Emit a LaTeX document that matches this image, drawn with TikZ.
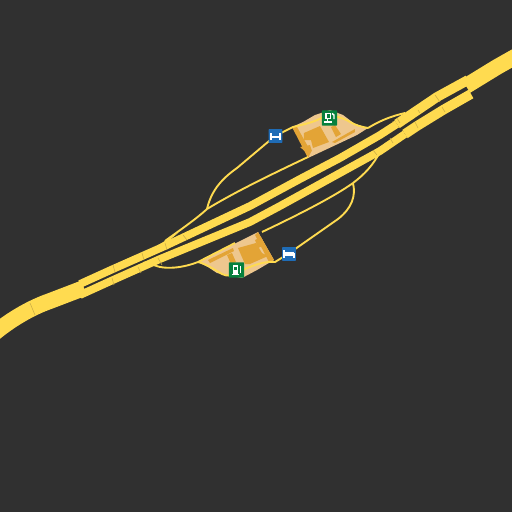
\documentclass[tikz,border=0pt]{standalone}
\usetikzlibrary{positioning}
\definecolor{MapBack}{RGB}{48, 48, 48}
\definecolor{RoadYellow}{RGB}{255, 219, 80}
\definecolor{RoadTick}{RGB}{205, 175, 70}
\definecolor{LotSand}{RGB}{238, 199, 142}
\definecolor{LotOrange}{RGB}{227, 164, 54}
\definecolor{IconGreen}{RGB}{6, 128, 62}
\definecolor{IconBlue}{RGB}{31, 108, 182}
\begin{document}
\begin{tikzpicture}[
    x=0.02cm, y=-0.02cm,
    % Global Styles
    trunk/.style={draw=RoadYellow, line width=16*0.567pt, line join=round},
    carriage/.style={draw=RoadYellow, line width=7.8*0.567pt, line join=round},
    widecarriage/.style={draw=RoadYellow, line width=9.8*0.567pt, line join=round},
    slip/.style={draw=RoadYellow, line width=1.9*0.567pt, line join=round},
    tick/.style={draw=RoadTick, line width=0.6*0.567pt},
    lot/.style={fill=LotSand},
    building/.style={fill=LotOrange},
    glyph/.style={draw=white, line width=1.5*0.567pt},
    greenicon/.style={rectangle, fill=IconGreen, inner sep=0pt, minimum size=15.5*0.567pt, rounded corners=0.5pt},
    blueicon/.style={rectangle, fill=IconBlue, inner sep=0pt, minimum size=14*0.567pt, rounded corners=0.5pt}
]

    \fill[MapBack] (0,0) rectangle (512,512);
    \useasboundingbox (0,0) rectangle (512,512);

    % --- Service areas ---

    % North lot
    \fill[lot] (292,127) -- (303,122) -- (315,115) -- (330,110) -- (343,115) -- (355,124)
        -- (368,128) -- (357,135) -- (308,158) -- (305,147) -- cycle;
    \fill[building] (292,127) -- (297,127) -- (311,152) -- (308,158) -- cycle;
    \fill[building] (304,133) -- (320,126) -- (329,142) -- (313,148) -- (311,140) -- (304,140) -- cycle;
    \fill[building] (300,147) -- (310,145) -- (312,151) -- (308,154) -- cycle;
    \fill[building] (331,127) -- (335,125) -- (341,134) -- (336,137) -- cycle;
    \fill[building] (332,142) -- (355,129) -- (355,132) -- (335,143) -- cycle;

    % South lot
    \fill[lot] (198,262) -- (258,232) -- (274,260) -- (257,270) -- (242,278)
        -- (217,273) -- (208,267) -- cycle;
    \fill[building] (258,232) -- (274,260) -- (269,262) -- (255,235) -- cycle;
    \fill[building] (238,248) -- (256,243) -- (262,253) -- (268,256) -- (250,264) -- (245,264) -- cycle;
    \fill[building] (255,240) -- (261,237) -- (265,245) -- (258,248) -- cycle;
    \fill[building] (227,255) -- (232,253) -- (236,262) -- (231,264) -- cycle;
    \fill[building] (208,260) -- (233,248) -- (234,251) -- (210,263) -- cycle;

    % --- Slip roads ---

    % North side
    \draw[slip] (165,241) .. controls (180,230) and (195,220) .. (207,209);
    \draw[slip] (207,209) .. controls (211,192) and (220,180) .. (237,168) -- (275,136);
    \draw[slip] (207,209) .. controls (235,192) and (270,175) .. (308,157);
    \draw[slip] (275,136) -- (293,127) .. controls (305,124) and (315,122) .. (323,117)
        .. controls (333,115) and (342,117) .. (350,122) .. controls (355,125) and (362,127) .. (368,128);
    \draw[slip] (368,128) .. controls (378,122) and (388,117) .. (405,113);

    % South side
    \draw[slip] (150,263) .. controls (160,270) and (180,269) .. (198,262);
    \draw[slip] (198,262) -- (235,243);
    \draw[slip] (198,262) .. controls (206,264) and (212,268) .. (222,274)
        .. controls (232,279) and (240,271) .. (247,268) .. controls (255,265) and (265,261) .. (275,262) -- (288,254);
    \draw[slip] (380,152) .. controls (373,165) and (365,174) .. (353,183);
    \draw[slip] (353,183) .. controls (335,196) and (300,214) .. (262,232);
    \draw[slip] (353,183) .. controls (356,196) and (352,208) .. (338,219) -- (288,254);

    % --- Main road ---

    \draw[trunk] (-8,335) .. controls (10,320) and (30,308) .. (50,301) -- (84,288);
    \draw[trunk] (466,86) -- (497,67) -- (520,54);
    \draw[carriage] (80,284) -- (113,269) -- (165,246) -- (250,206) -- (300,179) -- (340,158)
        -- (380,135) -- (397,124);
    \draw[carriage] (80,295) -- (113,280) -- (160,259) -- (250,222) -- (280,206) -- (340,173)
        -- (380,151) -- (405,134);
    \draw[widecarriage] (397,124) -- (437,97) -- (468,80);
    \draw[widecarriage] (405,134) -- (417,126) -- (443,110) -- (471,94);

    % flares where the slip roads leave
    \fill[RoadYellow] (150,250) -- (178,233) -- (165,244) -- cycle;
    \fill[RoadYellow] (143,262) -- (160,259) -- (150,265) -- cycle;
    \fill[RoadYellow] (392,122) -- (415,112) -- (405,118) -- cycle;
    \fill[RoadYellow] (372,156) -- (388,142) -- (379,156) -- cycle;

    % seams across the carriageways
    \foreach \a/\b/\c/\d in {30/303/35/315, 113/265/115/272, 112/278/114/285, 142/253/144/260,
        138/267/141/273, 158/258/162/265, 165/243/167/250, 183/235/187/240, 435/95/440/102,
        442/107/445/112, 415/122/418/128, 418/110/420/113, 397/118/400/123, 390/138/393/143,
        373/150/377/155}
        \draw[tick] (\a,\b) -- (\c,\d);

    % --- Icons ---

    \node[greenicon] (fuelnorth) at (329.5,118) {};
    \node[greenicon] (fuelsouth) at (236.5,270) {};
    \node[blueicon] (bednorth) at (275.5,136) {};
    \node[blueicon] (bedsouth) at (289,254) {};

    % fuel pumps
    \begin{scope}[shift={(fuelnorth)}]
        \draw[glyph] (-3.5,-4.5) rectangle (1,0.5);
        \draw[glyph] (-5,4) -- (3,4);
        \draw[glyph] (-2,0.5) -- (-2,4);
        \draw[glyph] (2.5,-4.5) -- (4.5,-3) -- (4.5,1);
    \end{scope}
    \begin{scope}[shift={(fuelsouth)}]
        \fill[white] (-3.5,-5) rectangle (2,4);
        \fill[IconGreen] (-2,-3.5) rectangle (0.5,-0.5);
        \draw[glyph] (-4.5,4.5) -- (3,4.5);
        \draw[glyph] (4,-4) -- (4,3);
    \end{scope}

    % beds
    \begin{scope}[shift={(bednorth)}]
        \draw[glyph] (-4.5,-3) -- (-4.5,3.5);
        \draw[glyph] (4.5,-3) -- (4.5,3.5);
        \fill[white] (-4.5,0) rectangle (4.5,2);
    \end{scope}
    \begin{scope}[shift={(bedsouth)}]
        \draw[glyph] (-5,-4) -- (-5,3.5);
        \draw[glyph] (5,-1) -- (5,3.5);
        \draw[glyph] (-5,1) -- (5,1);
        \draw[glyph] (-1.5,-1) -- (5,-1);
        \fill[white] (-4,-2) rectangle (-2,0);
    \end{scope}

\end{tikzpicture}
\end{document}
